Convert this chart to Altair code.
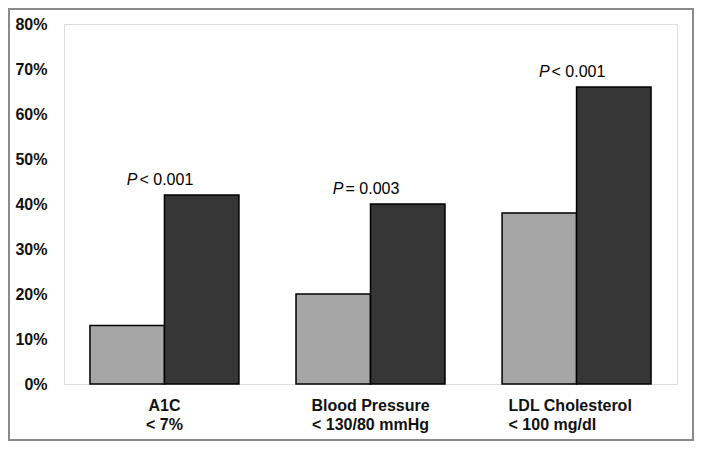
import altair as alt
import pandas as pd

# ---- data ----
categories = ["A1C", "Blood Pressure", "LDL Cholesterol"]
targets = ["< 7%", "< 130/80 mmHg", "< 100 mg/dl"]
series = ["Baseline", "Follow-up"]
baseline_pct = [13, 20, 38]
followup_pct = [42, 40, 66]
p_values = ["< 0.001", "= 0.003", "< 0.001"]
y_ticks = [0, 10, 20, 30, 40, 50, 60, 70, 80]

cat_keys = [f"{c}|{t}" for c, t in zip(categories, targets)]

rows = []
for k, b, f in zip(cat_keys, baseline_pct, followup_pct):
    rows.append({"cat": k, "series": series[0], "value": b})
    rows.append({"cat": k, "series": series[1], "value": f})
bars_df = pd.DataFrame(rows)

ann_df = pd.DataFrame({
    "cat": cat_keys,
    "p": p_values,
    "top": [max(b, f) for b, f in zip(baseline_pct, followup_pct)],
})

FONT = "Liberation Sans"
GRID = "#8a8a8a"

x_enc = alt.X(
    "cat:N",
    sort=cat_keys,
    title=None,
    scale=alt.Scale(paddingInner=0.277, paddingOuter=0.126),
    axis=alt.Axis(
        labelExpr="split(datum.value, '|')",
        labelAngle=0,
        labelFont=FONT,
        labelFontSize=16,
        labelFontWeight="bold",
        labelColor="#111111",
        labelPadding=13,
        labelLineHeight=19.5,
        labelAlign={"condition": {"test": "indexof(datum.value, 'LDL') >= 0", "value": "left"}, "value": "center"},
        labelOffset={"condition": {"test": "indexof(datum.value, 'LDL') >= 0", "value": -68}, "value": 0},
        domain=False,
        ticks=False,
        tickSize=0,
    ),
)

y_scale = alt.Scale(domain=[0, 80], nice=False)

bars = alt.Chart(bars_df).mark_bar(stroke="black", strokeWidth=1.5, opacity=1).encode(
    x=x_enc,
    xOffset=alt.XOffset("series:N", sort=series, scale=alt.Scale(paddingInner=0, paddingOuter=0)),
    y=alt.Y(
        "value:Q",
        title=None,
        scale=y_scale,
        axis=alt.Axis(
            values=y_ticks,
            labelExpr="datum.value + '%'",
            labelFont=FONT,
            labelFontSize=16,
            labelFontWeight="bold",
            labelColor="#111111",
            labelPadding=17,
            grid=False,
            domain=False,
            ticks=False,
            tickSize=0,
        ),
    ),
    color=alt.Color("series:N", sort=series,
                    scale=alt.Scale(domain=series, range=["#a6a6a6", "#363636"]),
                    legend=None),
)

p_letter = alt.Chart(ann_df).mark_text(
    font=FONT, fontSize=16, fontStyle="italic", color="black",
    align="right", baseline="alphabetic", dx=-27, dy=-10,
).encode(
    x=alt.X("cat:N", sort=cat_keys),
    y=alt.Y("top:Q", scale=y_scale),
    text=alt.value("P"),
)

p_rest = alt.Chart(ann_df).mark_text(
    font=FONT, fontSize=16, color="black",
    align="left", baseline="alphabetic", dx=-25, dy=-10,
).encode(
    x=alt.X("cat:N", sort=cat_keys),
    y=alt.Y("top:Q", scale=y_scale),
    text="p:N",
)

border = alt.Chart(alt.Data(values=[{}])).mark_rect(
    fillOpacity=0, stroke=GRID, strokeWidth=2,
).encode(
    x=alt.value(-55), x2=alt.value(629),
    y=alt.value(-15), y2=alt.value(416),
)

chart = alt.layer(border, bars, p_letter, p_rest).properties(
    width=613, height=360, padding=0,
).configure_view(
    stroke=GRID, strokeWidth=2,
).configure(background="white")

chart.save("out.html", embed_options={"renderer": "svg", "actions": False})
